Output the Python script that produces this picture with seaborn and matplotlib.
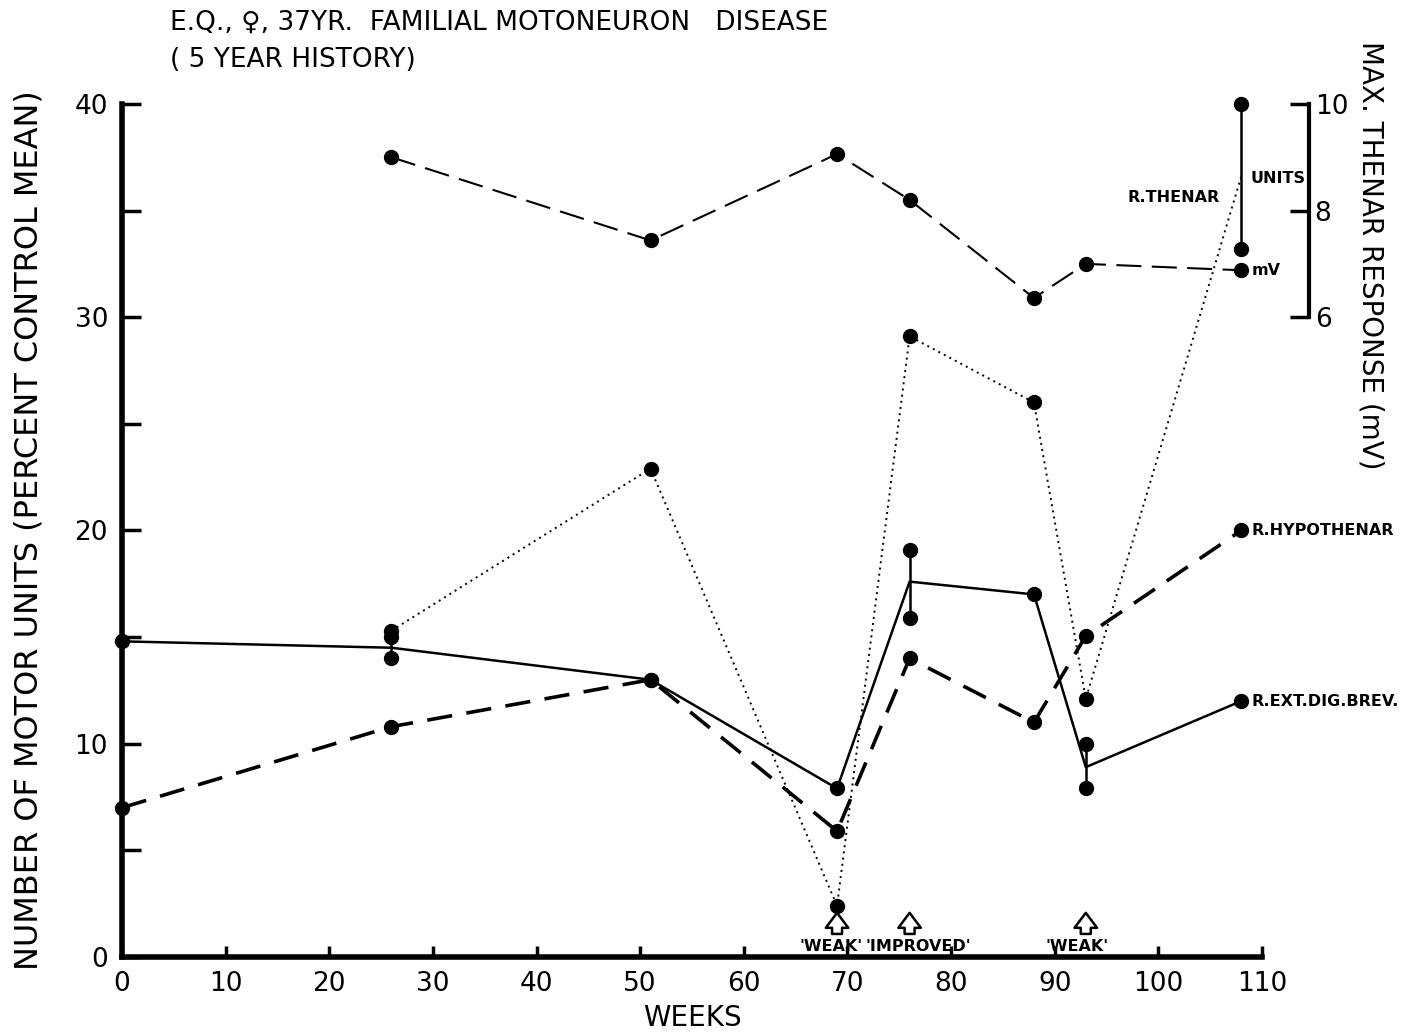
import numpy as np
import matplotlib
matplotlib.use("Agg")
import matplotlib.pyplot as plt
import seaborn as sns

# ---- data ----
weeks = [0, 26, 51, 69, 76, 88, 93, 108]
ext_dig_brev = [14.8, 14.5, 13.0, 7.9, 17.6, 17.0, 8.9, 12.0]
hypothenar = [7.0, 10.8, 13.0, 5.9, 14.0, 11.0, 15.05, 20.0]

thenar_weeks = [26, 51, 69, 76, 88, 93, 108]
thenar_units = [15.3, 22.9, 2.4, 29.1, 26.0, 12.1, 36.6]
thenar_mv = [9.0, 7.44, 9.06, 8.2, 6.36, 7.0, 6.88]

# repeated measurements (ranges) shown as vertical bars
edb_range_weeks = [26, 76, 93]
edb_range_low = [14.0, 15.9, 7.9]
edb_range_high = [15.0, 19.1, 10.0]
thenar_range_weeks = [108]
thenar_range_low = [33.2]
thenar_range_high = [40.0]

event_weeks = [69, 76, 93]
event_labels = ["'WEAK'", "'IMPROVED'", "'WEAK'"]
event_label_x = [68.4, 76.8, 92.2]

x_ticks = list(range(0, 111, 10))
y_major = [0, 10, 20, 30, 40]
y_minor = [5, 15, 25, 35]
mv_ticks = [6, 8, 10]

sns.set_style("ticks")
plt.rcParams["font.family"] = ["DejaVu Sans"]
plt.rcParams["text.color"] = "black"
plt.rcParams["axes.labelcolor"] = "black"
plt.rcParams["xtick.color"] = "black"
plt.rcParams["ytick.color"] = "black"
plt.rcParams["axes.edgecolor"] = "black"

fig = plt.figure(figsize=(14.05, 10.34), dpi=100)
ax = fig.add_axes([0.0868, 0.0745, 0.8114, 0.825])

mk = dict(marker="o", markersize=10, color="black", linestyle="none", clip_on=False, zorder=5)

# R. EXT. DIG. BREV. (solid)
sns.lineplot(x=weeks, y=ext_dig_brev, ax=ax, color="black", lw=1.8, sort=False)
dot_w = [w for w in weeks if w not in edb_range_weeks]
dot_v = [v for w, v in zip(weeks, ext_dig_brev) if w not in edb_range_weeks]
ax.plot(dot_w, dot_v, **mk)
ax.vlines(edb_range_weeks, edb_range_low, edb_range_high, color="black", lw=1.8)
ax.plot(edb_range_weeks, edb_range_low, **mk)
ax.plot(edb_range_weeks, edb_range_high, **mk)

# R. HYPOTHENAR (heavy dashes)
ax.plot(weeks, hypothenar, color="black", lw=2.6, dashes=(7, 4))
ax.plot(weeks, hypothenar, **mk)

# R. THENAR units (dotted)
ax.plot(thenar_weeks, thenar_units, color="black", lw=1.4, dashes=(1, 2.2))
ax.plot(thenar_weeks[:-1], thenar_units[:-1], **mk)
ax.vlines(thenar_range_weeks, thenar_range_low, thenar_range_high, color="black", lw=1.8)
ax.plot(thenar_range_weeks, thenar_range_low, **mk)
ax.plot(thenar_range_weeks, thenar_range_high, **mk)

# right axis: max thenar response (mV)
ax2 = ax.twinx()
ax2.set_ylim(-6, 10)
ax2.plot(thenar_weeks, thenar_mv, color="black", lw=1.5, dashes=(12, 5))
ax2.plot(thenar_weeks, thenar_mv, **mk)

ax.set_xlim(0, 110)
ax.set_ylim(0, 40)
ax.set_xticks(x_ticks)
ax.set_yticks(y_major)
ax.set_yticks(y_minor, minor=True)
ax.tick_params(axis="both", which="both", direction="in", width=2.5, labelsize=19)
ax.tick_params(axis="y", which="both", length=14, pad=10)
ax.tick_params(axis="x", length=8, pad=10)
for s in ["top", "right"]:
    ax.spines[s].set_visible(False)
for s in ["left", "bottom"]:
    ax.spines[s].set_linewidth(4)
ax.set_xlabel("WEEKS", fontsize=20, va="center")
ax.xaxis.set_label_coords(0.5, -0.071)
ax.set_ylabel("NUMBER OF MOTOR UNITS (PERCENT CONTROL MEAN)", fontsize=23, labelpad=22)

for s in ["top", "left", "bottom"]:
    ax2.spines[s].set_visible(False)
ax2.spines["right"].set_position(("outward", 34))
ax2.spines["right"].set_bounds(6, 10)
ax2.spines["right"].set_linewidth(3)
ax2.set_yticks(mv_ticks)
ax2.tick_params(axis="y", direction="in", length=14, width=2.5, labelsize=19, pad=4)
ax2.set_ylabel("MAX. THENAR RESPONSE (mV)", fontsize=20, rotation=270, labelpad=0, va="center")
ax2.yaxis.set_label_coords(1.095, 0.823)

# series labels
lab = dict(fontsize=11.5, fontweight="bold", va="center")
ax.text(105.9, 35.6, "R.THENAR", ha="right", **lab)
ax.text(108.9, 36.5, "UNITS", ha="left", **lab)
ax.text(109.0, 32.2, "mV", ha="left", **lab)
ax.text(109.0, 20.0, "R.HYPOTHENAR", ha="left", **lab)
ax.text(109.0, 12.0, "R.EXT.DIG.BREV.", ha="left", **lab)

# events
for w, t, tx in zip(event_weeks, event_labels, event_label_x):
    ax.annotate("", xy=(w, 2.2), xytext=(w, 0.95),
                arrowprops=dict(arrowstyle="simple,head_width=0.9,head_length=0.6,tail_width=0.4",
                                mutation_scale=18, fc="white", ec="black", lw=1.8))
    ax.text(tx, 0.5, t, ha="center", va="center", fontsize=11.5, fontweight="bold")

fig.text(0.121, 0.978, "E.Q., \u2640, 37YR.  FAMILIAL MOTONEURON   DISEASE", fontsize=19, va="center")
fig.text(0.121, 0.942, "( 5 YEAR HISTORY)", fontsize=19, va="center")

fig.savefig("out.png", dpi=100)
